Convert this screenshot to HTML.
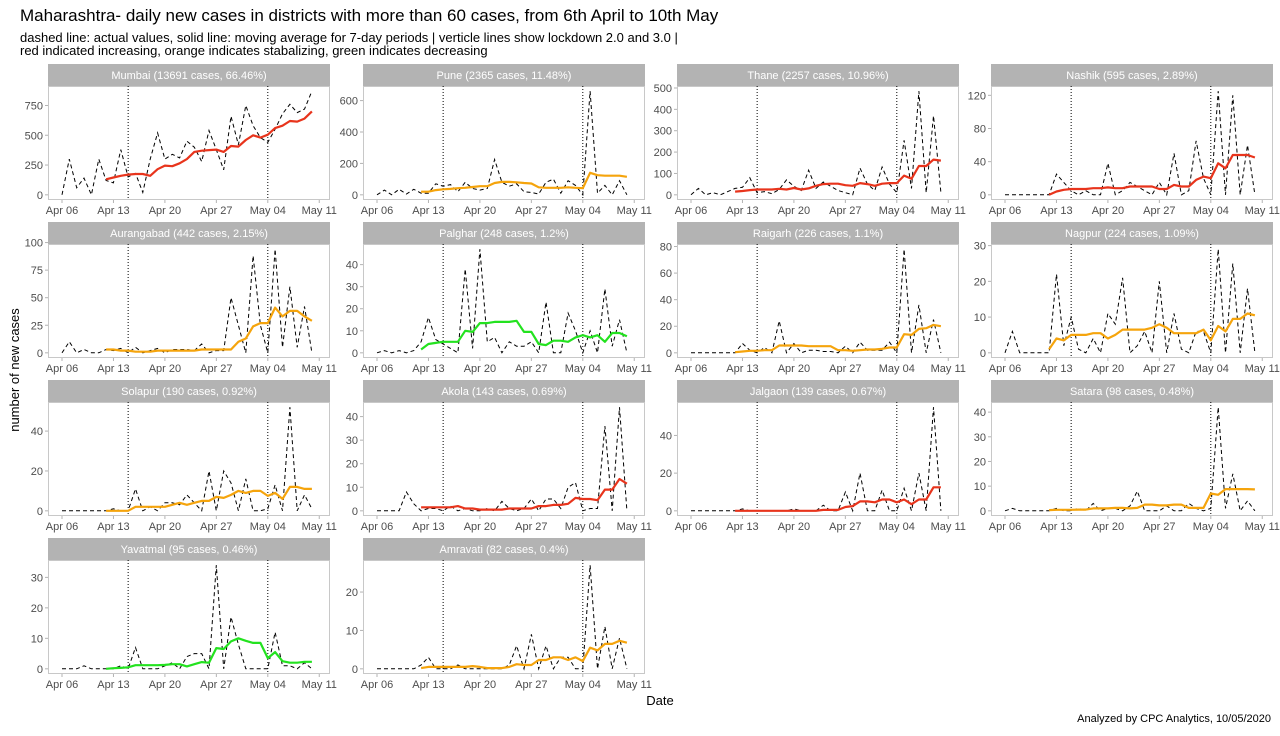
<!DOCTYPE html>
<html><head><meta charset="utf-8"><style>
body{margin:0;background:#fff;font-family:"Liberation Sans",sans-serif;}
svg text{font-family:"Liberation Sans",sans-serif;}
</style></head><body>
<svg id="c" width="1280" height="731" viewBox="0 0 1280 731">
<text x="20" y="21" font-size="17" fill="#000">Maharashtra- daily new cases in districts with more than 60 cases, from 6th April to 10th May</text>
<text x="20" y="42" font-size="13" fill="#000">dashed line: actual values, solid line: moving average for 7-day periods | verticle lines show lockdown 2.0 and 3.0 |</text>
<text x="20" y="55" font-size="13" fill="#000">red indicated increasing, orange indicates stabalizing, green indicates decreasing</text>
<text transform="translate(19,370) rotate(-90)" text-anchor="middle" font-size="13">number of new cases</text>
<text x="660" y="705" text-anchor="middle" font-size="13">Date</text>
<text x="1271" y="722" text-anchor="end" font-size="11">Analyzed by CPC Analytics, 10/05/2020</text>
<g id="panels"></g>
</svg>
<script>
const districts=["Mumbai (13691 cases, 66.46%)","Pune (2365 cases, 11.48%)","Thane (2257 cases, 10.96%)","Nashik (595 cases, 2.89%)","Aurangabad (442 cases, 2.15%)","Palghar (248 cases, 1.2%)","Raigarh (226 cases, 1.1%)","Nagpur (224 cases, 1.09%)","Solapur (190 cases, 0.92%)","Akola (143 cases, 0.69%)","Jalgaon (139 cases, 0.67%)","Satara (98 cases, 0.48%)","Yavatmal (95 cases, 0.46%)","Amravati (82 cases, 0.4%)"];
const trend=["red","orange","red","red","orange","green","orange","orange","orange","red","red","orange","green","orange"];
const xTickDays=[0,7,14,21,28,35];
const xTickLabels=["Apr 06","Apr 13","Apr 20","Apr 27","May 04","May 11"];
const lockdownDays=[9,28];
const maStartDay=6;
const daily=[
[0,300,60,140,0,300,120,100,380,150,180,20,300,520,300,340,310,450,400,280,540,380,210,660,420,750,580,480,440,550,680,760,690,720,870],
[0,30,0,35,5,35,10,10,70,55,65,20,80,40,30,40,225,80,55,70,20,15,5,80,100,10,90,60,0,660,10,60,0,90,0],
[0,30,0,10,0,15,30,35,80,10,15,5,25,70,40,20,115,30,60,40,20,10,0,125,50,20,130,50,10,255,30,485,10,370,10],
[0,0,0,0,0,0,0,25,15,5,0,5,0,0,38,0,5,15,10,5,0,15,0,50,0,5,65,20,0,125,0,120,0,60,0],
[0,10,0,3,0,0,3,2,4,0,5,0,2,4,0,3,3,3,2,8,0,2,2,50,25,0,88,25,0,94,5,60,5,42,0],
[0,1,0,1,0,1,5,16,6,4,2,0,38,2,47,5,7,0,5,3,3,5,0,23,0,0,18,10,0,10,0,29,3,15,0],
[0,0,0,0,0,0,0,7,2,0,4,0,24,0,7,0,2,2,1,1,0,5,0,8,2,2,2,8,0,78,0,36,0,25,0],
[0,6,0,0,0,0,0,22,2,10,1,0,4,0,11,8,21,0,2,6,0,20,0,11,1,0,6,6,0,29,0,25,0,18,0],
[0,0,0,0,0,0,0,1,0,0,11,0,2,0,4,4,3,8,4,0,20,0,20,14,0,16,0,0,1,13,0,52,0,8,1],
[0,0,0,0,8,3,0,1,1,0,2,0,1,0,0,1,0,4,1,0,1,5,0,5,5,1,10,12,0,1,1,36,0,44,0],
[0,0,0,0,0,0,0,1,0,0,0,0,0,0,1,0,0,0,3,0,0,10,0,20,0,0,11,0,0,12,0,20,0,55,0],
[0,1,0,0,0,0,0,1,0,0,1,0,3,0,1,1,0,2,8,0,0,0,2,0,0,3,1,0,1,42,1,15,0,4,0],
[0,0,0,1,0,0,0,0,1,0,7,0,0,0,1,2,0,4,5,5,0,34,0,17,8,0,0,0,0,12,1,1,0,2,0],
[0,0,0,0,0,0,1,3,0,0,0,1,0,0,0,0,0,0,1,6,0,9,0,6,0,3,3,0,0,27,0,11,0,8,0]
];
const movingAvg=[
[130,145,160,170,175,175,160,215,245,240,265,300,360,370,375,380,360,410,405,460,500,480,505,560,580,620,615,640,700],
[20,20,30,35,38,42,45,50,55,55,75,82,82,80,75,72,48,45,45,45,48,45,42,140,125,122,122,122,115],
[15,18,22,25,25,25,28,25,32,25,30,42,50,52,52,45,42,55,50,42,52,55,55,90,75,135,135,165,160],
[0,4,6,7,7,7,8,8,9,8,8,10,10,10,10,7,7,12,10,10,18,22,20,38,32,48,48,48,45],
[3,3,2,2,1,1,1,2,2,2,2,2,2,3,3,3,3,3,10,13,24,27,27,41,33,38,38,33,29],
[1.5,4,4.5,5,5,5,10,9.5,13.5,13.5,14,14,14,14.5,9.5,9.5,4,3.5,5.5,5.5,5,7,8,7,8,5,9,9,7.5],
[0.5,1,1.5,1.5,2,2,5.5,5.5,5.5,5.5,5,5,5,5,2,2,1.5,2,2.5,2.5,3,4,4,14,13.5,18,18.5,21,20],
[1,4,3.5,5,5,5,5.5,5.5,4,5,6.5,6.5,6.5,6.5,7,8,7,5.5,5.5,5.5,5.5,6.5,3.5,7.5,6,9.5,9.5,11,10.5],
[0,0,0,0,2,2,2,2,2,3,4,3,4,5,5,7,6.5,8,10,9,10,10,7.5,9,6,12,12,11,11],
[1.5,1.5,1.5,1.5,1.5,2,1,1,0.5,0.5,0.5,0.5,1,1,1,1,2,2,2.5,2.5,3,5.5,5,5,4.5,9,9,13.5,11.5],
[0,0,0,0,0,0,0,0,0,0,0,0,0.5,0.5,0.5,2,2.5,5,5,4.5,6,6,4.5,6,3.5,6,6,12.5,12.5],
[0.3,0.4,0.4,0.4,0.5,0.5,1,1,1,1.2,1.2,1,1.2,2.5,2.5,2.2,2.2,2.5,2.5,1.2,1.2,1.2,7,6.5,8.8,8.8,8.8,8.8,8.7],
[0,0.2,0.3,0.5,1.2,1.2,1.2,1.2,1.3,1.5,1.5,0.8,1.5,2.2,2,6.8,6.5,9,10,9.2,8.5,8.5,3.5,5.5,2.5,2,2,2.3,2.3],
[0.2,0.5,0.5,0.5,0.5,0.5,0.5,0.7,0.5,0.2,0.2,0.2,0.5,1.2,1,1,2.3,2.3,3,3,2.3,3,2,5.5,4.8,6.5,6.5,7.3,6.8]
];
const yTicks=[[0,250,500,750],[0,200,400,600],[0,100,200,300,400,500],[0,40,80,120],[0,25,50,75,100],[0,10,20,30,40],[0,20,40,60,80],[0,10,20,30],[0,20,40],[0,10,20,30,40],[0,20,40],[0,10,20,30,40],[0,10,20,30],[0,10,20]];

const NS="http://www.w3.org/2000/svg";
const colors={red:"#e8341c",orange:"#f5a40c",green:"#23e21f"};
const lefts=[48,363,677,991], tops=[64,222,380,538];
const PW=282, SH=22, PH=114, dayPx=7.35, dayOff=14;
const root=document.getElementById('panels');
function mk(tag,attrs,parent){const e=document.createElementNS(NS,tag);for(const k in attrs)e.setAttribute(k,attrs[k]);(parent||root).appendChild(e);return e;}
districts.forEach((name,i)=>{
  const L=lefts[i%4], T=tops[Math.floor(i/4)], PT=T+SH, PB=PT+PH;
  const g=mk('g',{});
  
  
  const vals=daily[i];
  const mx=Math.max(...vals, ...yTicks[i].slice(-1).map(t=>t*0));
  const lo=-0.05*mx, hi=1.05*mx;
  const xs=d=>L+dayOff+d*dayPx;
  const ys=v=>PB-(v-lo)/(hi-lo)*PH;
  const strip=mk('rect',{x:L,y:T,width:PW,height:SH,fill:'#b3b3b3'},g);
  
  
  const st=mk('text',{x:L+PW/2,y:T+15,'text-anchor':'middle','font-size':11,fill:'#fff'},g);
  st.textContent=name;
  
  
  mk('rect',{x:L+0.5,y:PT+0.5,width:PW-1,height:PH-1,fill:'none',stroke:'#c8c8c8','stroke-width':1},g);
  lockdownDays.forEach(d=>{
    const l=mk('line',{x1:xs(d),x2:xs(d),y1:PT,y2:PB,stroke:'#000','stroke-width':1,'stroke-dasharray':'1,2'},g);
    
    
  });
  xTickDays.forEach((d,k)=>{
    mk('line',{x1:xs(d),x2:xs(d),y1:PB,y2:PB+3,stroke:'#b3b3b3'},g);
    const t=mk('text',{x:xs(d),y:PB+14,'text-anchor':'middle','font-size':11,fill:'#4d4d4d'},g);
    t.textContent=xTickLabels[k];
    
    
  });
  yTicks[i].forEach(v=>{
    mk('line',{x1:L-3,x2:L,y1:ys(v),y2:ys(v),stroke:'#b3b3b3'},g);
    const t=mk('text',{x:L-5,y:ys(v)+4,'text-anchor':'end','font-size':11,fill:'#4d4d4d'},g);
    t.textContent=v;
    
    
  });
  const dp=vals.map((v,d)=>(d?'L':'M')+xs(d).toFixed(1)+','+ys(v).toFixed(1)).join('');
  const dl=mk('path',{d:dp,fill:'none',stroke:'#000','stroke-width':1,'stroke-dasharray':'4,3'},g);
  
  
  const mp=movingAvg[i].map((v,k)=>(k?'L':'M')+xs(k+maStartDay).toFixed(1)+','+ys(v).toFixed(1)).join('');
  const ml=mk('path',{d:mp,fill:'none',stroke:colors[trend[i]],'stroke-width':2.2,'stroke-linejoin':'round'},g);
  
  
});
</script>
</body></html>
